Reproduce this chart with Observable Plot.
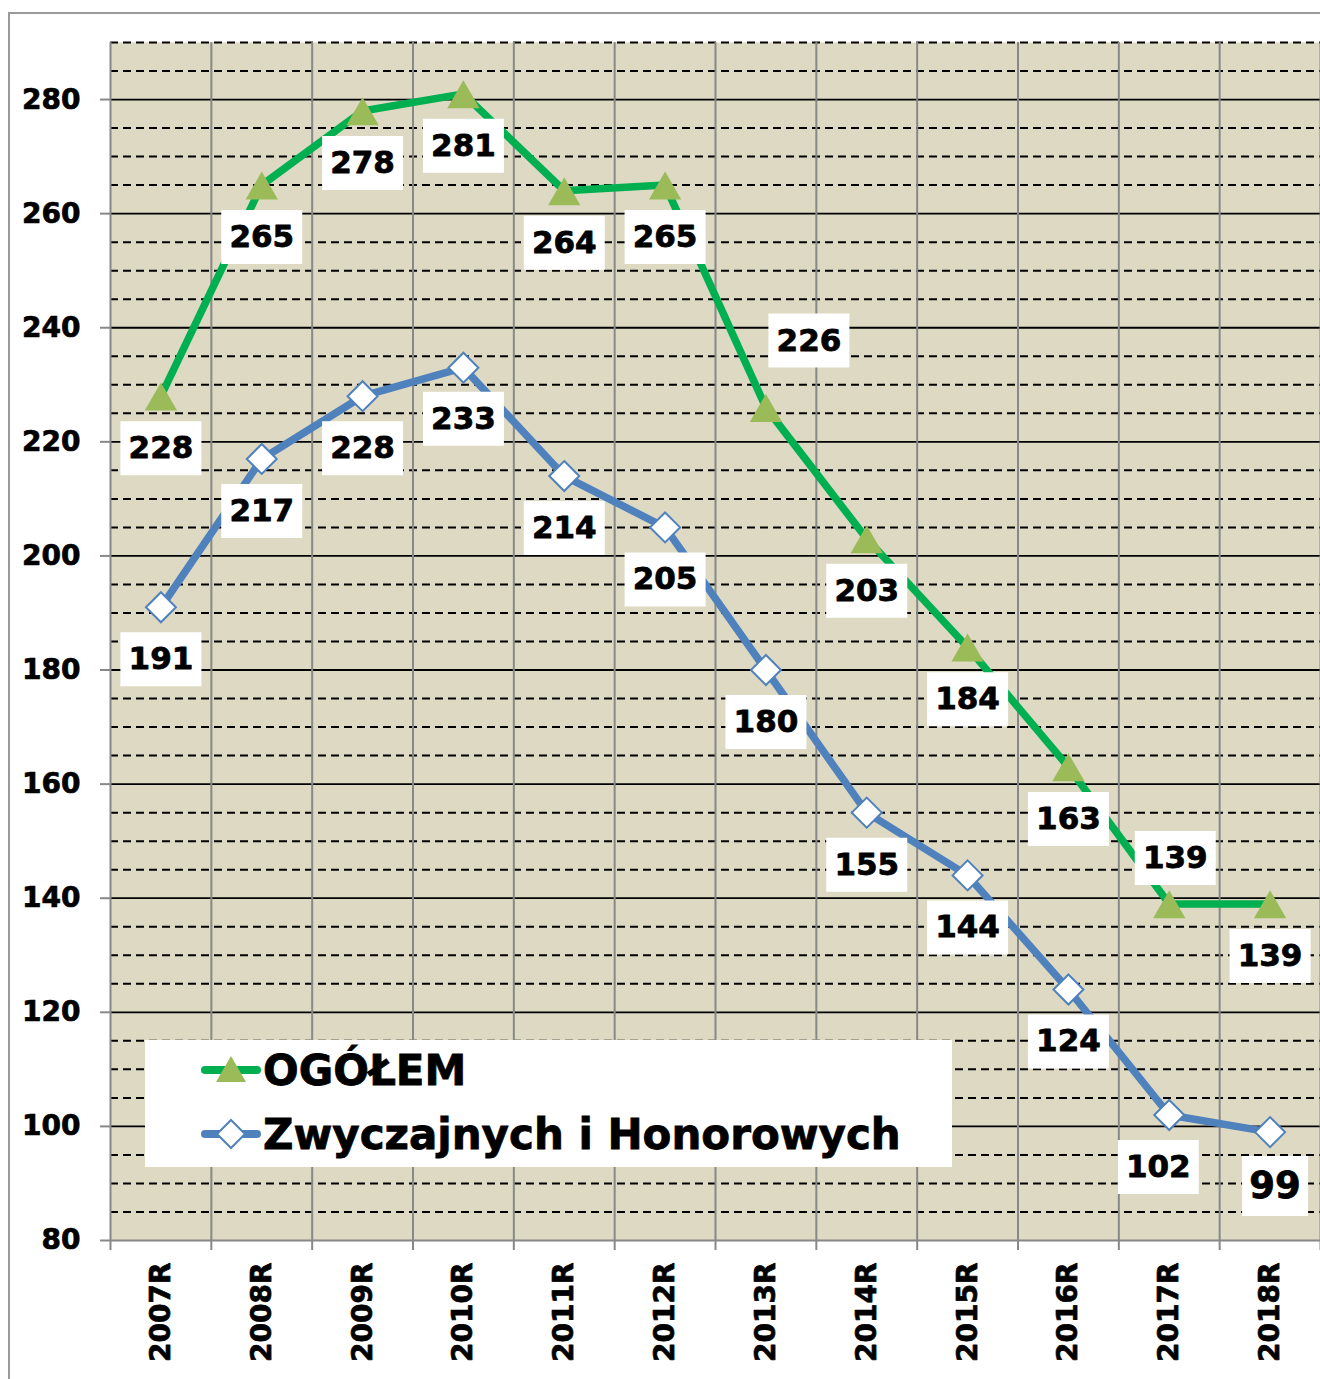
<!DOCTYPE html>
<html>
<head>
<meta charset="utf-8">
<script src="https://cdn.jsdelivr.net/npm/d3@7"></script>
<script src="https://cdn.jsdelivr.net/npm/@observablehq/plot@0.6"></script>
<style>
  html, body { margin: 0; padding: 0; background: #fff; }
  #wrap { position: relative; width: 1320px; height: 1379px; overflow: hidden; }
  #border { position: absolute; left: 8px; top: 12px; right: -10px; bottom: -10px;
            border-left: 2px solid #9a9a9a; border-top: 2px solid #9a9a9a; pointer-events: none; }
  #chart svg g[aria-label*="axis"] line,
  #chart svg g[aria-label*="axis"] path { stroke: #888; stroke-width: 2; }
  #chart svg g[aria-label*="axis"] text { fill: #000; stroke: #000; stroke-width: 0.7px; }
  #legend { position: absolute; left: 145px; top: 1040px; width: 807px; height: 127px;
            background: #fff; font-family: "DejaVu Sans", sans-serif; font-weight: bold; font-size: 42px; color: #000;
            -webkit-text-stroke: 0.8px #000; }
  .item { position: absolute; left: 55px; display: flex; align-items: center; height: 50px; }
  .item svg { margin-right: 1px; }
</style>
</head>
<body>
<div id="wrap">
  <div id="chart"></div>
  <div id="legend"></div>
  <div id="border"></div>
</div>
<script>
// ---- data ----
const years = ["2007R","2008R","2009R","2010R","2011R","2012R","2013R","2014R","2015R","2016R","2017R","2018R"];
const ogolem = [228, 265, 278, 281, 264, 265, 226, 203, 184, 163, 139, 139];
const zwyczajnych = [191, 217, 228, 233, 214, 205, 180, 155, 144, 124, 102, 99];
const seriesNames = ["OGÓŁEM", "Zwyczajnych i Honorowych"];
const yTicks = [80, 100, 120, 140, 160, 180, 200, 220, 240, 260, 280];

// ---- layout / style (not data) ----
const GREEN = "#00B050", GREEN_MARK = "#9BBB59", BLUE = "#4F81BD";
const labelOffsets = {
  ogolem: {6: [43, -67], 10: [6, -46]},
  zwyczajnych: {3: [0, 51], 10: [-11, 52], 11: [5, 54]}
};
const defaultOffset = [0, 52];

const rowsA = years.map((y, i) => ({i, year: y, value: ogolem[i], key: "ogolem"}));
const rowsB = years.map((y, i) => ({i, year: y, value: zwyczajnych[i], key: "zwyczajnych"}));
const boundaries = d3.range(years.length + 1).map(k => k - 0.5);
const minor = d3.range(85, 291, 5).filter(v => v % 20 !== 0);
const major = yTicks.filter(v => v > 80);

function boxSymbol(w, h) {
  return {draw(ctx) { ctx.moveTo(-w/2, -h/2); ctx.lineTo(w/2, -h/2); ctx.lineTo(w/2, h/2); ctx.lineTo(-w/2, h/2); ctx.closePath(); }};
}
const box3 = boxSymbol(81, 54);
const box2 = boxSymbol(66, 60);

function labelMarks(rows) {
  const marks = [];
  for (const r of rows) {
    const [dx, dy] = (labelOffsets[r.key][r.i]) || defaultOffset;
    const big = String(r.value).length < 3;
    marks.push(Plot.dot([r], {x: "i", y: "value", symbol: big ? box2 : box3, r: 10, fill: "#fff", stroke: "none", dx, dy}));
    marks.push(Plot.text([r], {x: "i", y: "value", text: d => String(d.value), dx, dy,
      fontSize: big ? 37 : 31, fontWeight: "bold", fill: "#000", stroke: "#000", strokeWidth: 0.8}));
  }
  return marks;
}

const chart = Plot.plot({
  width: 1320,
  height: 1379,
  marginLeft: 110,
  marginRight: 0,
  marginTop: 42,
  marginBottom: 139,
  style: {fontFamily: "DejaVu Sans, sans-serif", fontSize: "28px", fontWeight: "bold", background: "transparent", color: "#000"},
  x: {domain: [-0.5, years.length - 0.5], ticks: boundaries, tickFormat: () => "", tickSize: 10, label: null},
  y: {domain: [80, 290], ticks: yTicks, tickSize: 10, tickPadding: 20, label: null},
  marks: [
    Plot.frame({fill: "#DDD9C3", stroke: "none"}),
    Plot.ruleY(minor, {stroke: "#000", strokeWidth: 2, strokeDasharray: "8,5"}),
    Plot.ruleY(major, {stroke: "#000", strokeWidth: 1.8}),
    Plot.ruleX(boundaries, {stroke: "#888", strokeWidth: 2}),
    Plot.ruleY([80], {stroke: "#888", strokeWidth: 2}),
    Plot.text(years, {x: (d, i) => i, y: () => 80, text: d => d, rotate: -90, textAnchor: "end", dy: 22,
      fontSize: 28, fontWeight: "bold", fill: "#000", stroke: "#000", strokeWidth: 0.7}),
    Plot.line(rowsA, {x: "i", y: "value", stroke: GREEN, strokeWidth: 7.5, strokeLinejoin: "round"}),
    Plot.line(rowsB, {x: "i", y: "value", stroke: BLUE, strokeWidth: 7.5, strokeLinejoin: "round"}),
    Plot.dot(rowsA, {x: "i", y: "value", symbol: "triangle", r: 12, fill: GREEN_MARK, stroke: "none", dy: 5}),
    Plot.dot(rowsB, {x: "i", y: "value", symbol: "diamond2", r: 13.5, fill: "#fff", stroke: BLUE, strokeWidth: 2}),
    ...labelMarks(rowsA),
    ...labelMarks(rowsB)
  ]
});
document.getElementById("chart").appendChild(chart);

// legend
const legend = document.getElementById("legend");
const swatches = [
  {name: seriesNames[0], color: GREEN, top: 5,
   marker: `<path d="M30,14 L45,40 L15,40 Z" fill="${GREEN_MARK}"/>`},
  {name: seriesNames[1], color: BLUE, top: 69,
   marker: `<path d="M30,14 L44,28 L30,42 L16,28 Z" fill="#fff" stroke="${BLUE}" stroke-width="2"/>`}
];
for (const s of swatches) {
  const div = document.createElement("div");
  div.className = "item";
  div.style.top = s.top + "px";
  div.innerHTML = `<svg width="62" height="56" viewBox="0 0 60 56"><line x1="4" y1="28" x2="56" y2="28" stroke="${s.color}" stroke-width="8" stroke-linecap="round"/>${s.marker}</svg><span>${s.name}</span>`;
  legend.appendChild(div);
}
</script>
</body>
</html>
